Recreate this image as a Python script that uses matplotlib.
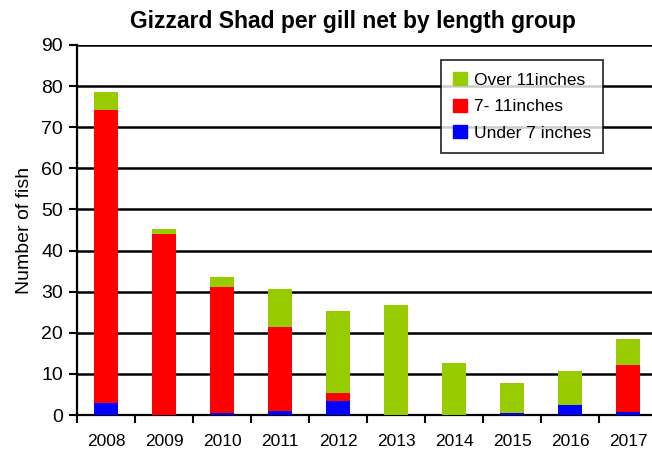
import numpy as np
import matplotlib.pyplot as plt
from matplotlib.patches import Patch

plt.rcParams['font.family'] = ['Liberation Sans', 'DejaVu Sans']

# Data
years = ['2008', '2009', '2010', '2011', '2012', '2013', '2014', '2015', '2016', '2017']
under_7 = [2.9, 0.0, 0.5, 1.0, 3.4, 0.0, 0.0, 0.6, 2.4, 0.8]
from_7_to_11 = [71.3, 44.0, 30.6, 20.4, 2.0, 0.0, 0.0, 0.0, 0.0, 11.4]
over_11 = [4.4, 1.2, 2.5, 9.2, 19.9, 26.8, 12.7, 7.2, 8.3, 6.3]

green = '#99CC00'
red = '#FF0000'
blue = '#0000FF'

fig = plt.figure(figsize=(6.52, 4.51), dpi=100)
ax = fig.add_axes([77 / 652, 36 / 451, 580 / 652, 370 / 451])

x = np.arange(len(years))
w = 0.41
b1 = np.array(under_7)
b2 = b1 + np.array(from_7_to_11)
ax.bar(x, under_7, w, color=blue, zorder=3)
ax.bar(x, from_7_to_11, w, bottom=b1, color=red, zorder=3)
ax.bar(x, over_11, w, bottom=b2, color=green, zorder=3)

ax.set_xlim(-0.5, len(years) - 0.5)
ax.set_ylim(0, 90)
ax.set_yticks(range(0, 91, 10))
ax.yaxis.grid(True, color='black', linewidth=1.8, zorder=0)
ax.set_axisbelow(True)

ax.set_xticks(x)
ax.set_xticklabels(years, fontsize=12.5)
ax.tick_params(axis='x', which='major', length=0, pad=14)
ax.set_xticks(np.arange(-0.5, len(years)), minor=True)
ax.tick_params(axis='x', which='minor', length=6, width=1.5, direction='out')
ax.tick_params(axis='y', length=6, width=1.5, labelsize=14, pad=4)

for s in ['top', 'right']:
    ax.spines[s].set_visible(False)
ax.spines['left'].set_linewidth(1.6)
ax.spines['bottom'].set_linewidth(1.6)

ax.set_ylabel('Number of fish', fontsize=14, labelpad=6)
fig.text(0.541, 0.953, 'Gizzard Shad per gill net by length group',
         ha='center', va='center', fontsize=16.5, fontweight='bold')

handles = [Patch(color=green), Patch(color=red), Patch(color=blue)]
labels = ['Over 11inches', '7- 11inches', 'Under 7 inches']
leg = ax.legend(handles, labels, loc='upper left',
                bbox_to_anchor=(441 / 652, 1 - 60 / 451), bbox_transform=fig.transFigure,
                frameon=True, fancybox=False, fontsize=12.5, handlelength=0.8,
                handleheight=0.8, handletextpad=0.4, labelspacing=0.62,
                borderpad=0.7, borderaxespad=0)
leg.get_frame().set_edgecolor('black')
leg.get_frame().set_linewidth(1.3)
leg.set_zorder(5)

fig.savefig('out.png', dpi=100)
